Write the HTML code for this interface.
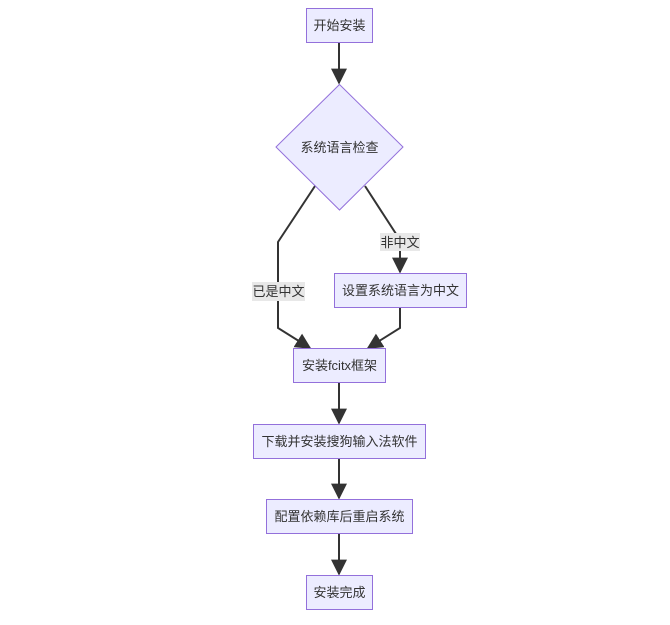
<!DOCTYPE html>
<html><head><meta charset="utf-8"><style>
body{margin:0;background:#fff;}
svg text{font-family:"Liberation Sans","Noto Sans CJK SC",sans-serif;font-size:13px;fill:#333;}
</style></head><body>
<svg width="670" height="620" viewBox="0 0 670 620" xmlns="http://www.w3.org/2000/svg">
<defs><marker id="a" viewBox="0 0 10 10" refX="9" refY="5" markerWidth="8" markerHeight="8" orient="auto"><path d="M0,0L10,5L0,10z" fill="#333"/></marker></defs>
<g fill="none" stroke="#333" stroke-width="2">
<path d="M339,42V83" marker-end="url(#a)"/>
<path d="M315,186L278,242V328L310,348" marker-end="url(#a)"/>
<path d="M365,186L400,240V272" marker-end="url(#a)"/>
<path d="M400,307V328L368,348" marker-end="url(#a)"/>
<path d="M339,383V423" marker-end="url(#a)"/>
<path d="M339,458V498" marker-end="url(#a)"/>
<path d="M339,533V574" marker-end="url(#a)"/>
</g>
<g fill="#ececff" stroke="#9370db" stroke-width="1">
<rect x="306.5" y="8.5" width="66" height="34"/>
<polygon points="339.5,84.5 403,147 339.5,210 276,147"/>
<rect x="334.5" y="273.5" width="132" height="34"/>
<rect x="293.5" y="348.5" width="92" height="34"/>
<rect x="253.5" y="424.5" width="172" height="34"/>
<rect x="266.5" y="499.5" width="146" height="34"/>
<rect x="306.5" y="575.5" width="66" height="34"/>
</g>
<rect x="252" y="282" width="53" height="19" fill="#e8e8e8"/>
<rect x="380" y="233" width="40" height="18" fill="#e8e8e8"/>
<g text-anchor="middle">
<text x="339.5" y="30">开始安装</text>
<text x="339.5" y="152">系统语言检查</text>
<text x="278.5" y="296">已是中文</text>
<text x="400" y="247">非中文</text>
<text x="400.5" y="295">设置系统语言为中文</text>
<text x="339.5" y="370">安装fcitx框架</text>
<text x="339.5" y="446">下载并安装搜狗输入法软件</text>
<text x="339.5" y="521">配置依赖库后重启系统</text>
<text x="339.5" y="597">安装完成</text>
</g>
</svg>
</body></html>
